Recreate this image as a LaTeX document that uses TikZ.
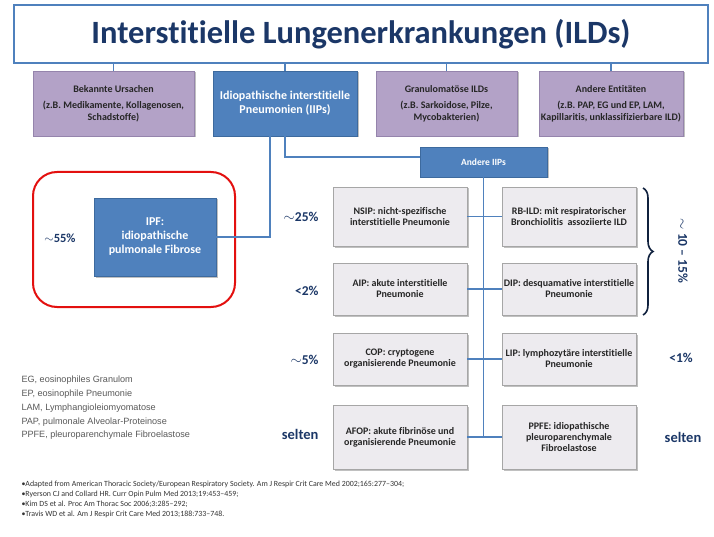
\documentclass[tikz,border=0pt]{standalone}
\usepackage{fontspec}
\setmainfont{Carlito}[Ligatures=NoCommon]
\newfontfamily\arialfont{Liberation Sans}
\usetikzlibrary{shadows,decorations.pathreplacing}

\definecolor{ildblue}{HTML}{4F81BD}
\definecolor{ildblueline}{HTML}{3D6A9E}
\definecolor{ildnavy}{HTML}{1B3767}
\definecolor{ildlila}{HTML}{B3A2C7}
\definecolor{ildlilaline}{HTML}{9584AC}
\definecolor{ildgray}{HTML}{EDEBEF}
\definecolor{ildgrayline}{HTML}{A6A6A6}
\definecolor{ildred}{HTML}{E3100F}

\tikzset{
  boxshadow/.style={drop shadow={shadow xshift=1.5pt, shadow yshift=-1.5pt, opacity=0.35, fill=black!70}},
  lilabox/.style={draw=ildlilaline, fill=ildlila, boxshadow, minimum height=65pt, align=center, inner sep=2pt,
    font=\fontsize{10}{11.5}\selectfont\bfseries, text=black!85},
  bluebox/.style={draw=ildblueline, fill=ildblue, boxshadow, align=center, inner sep=2pt,
    font=\fontsize{12}{14}\selectfont\bfseries, text=white},
  graybox/.style={draw=ildgrayline, fill=ildgray, boxshadow, minimum width=134pt, align=center, inner sep=2pt,
    font=\fontsize{10}{11}\selectfont\bfseries, text=black!85},
  share/.style={font=\fontsize{13.5}{15}\selectfont\bfseries, text=ildnavy},
  link/.style={draw=ildblue, line width=1.6pt}
}

\begin{document}
\begin{tikzpicture}[x=1pt, y=-1pt]
  \useasboundingbox[fill=white] (0,0) rectangle (714,537);

  % Title
  \node[draw=ildblue, line width=2pt, fill=white, minimum width=694pt, minimum height=58pt,
    font=\fontsize{32.5}{36}\selectfont\bfseries, text=ildnavy] (title) at (361,34)
    {Interstitielle Lungenerkrankungen (ILDs)};

  % Main groups
  \node[lilabox, minimum width=161pt] (bekannt) at (113.5,103.5)
    {Bekannte Ursachen\\[5pt](z.B. Medikamente, Kollagenosen,\\Schadstoffe)};
  \node[bluebox, minimum width=144pt, minimum height=65pt] (iip) at (285,103.5)
    {Idiopathische interstitielle\\Pneumonien (IIPs)};
  \node[lilabox, minimum width=141pt] (granulom) at (446.5,103.5)
    {Granulomatöse ILDs\\[5pt](z.B. Sarkoidose, Pilze,\\Mycobakterien)};
  \node[lilabox, minimum width=144pt] (andereent) at (611,103.5)
    {Andere Entitäten\\[5pt](z.B. PAP, EG und EP, LAM,\\Kapillaritis, unklassifizierbare ILD)};

  \foreach \n in {bekannt,iip,granulom,andereent}
    \draw[link] (title.south -| \n.north) -- (\n.north);

  % IPF
  \draw[ildred, line width=2pt, rounded corners=24pt] (33,172) rectangle (235,307);
  \node[bluebox, minimum width=122pt, minimum height=78pt] (ipf) at (155,237)
    {IPF:\\idiopathische\\pulmonale Fibrose};
  \node[share, font=\fontsize{12.5}{15}\selectfont\bfseries] (p55) at (60,238) {$\sim$55\%};
  \draw[link] (ipf.east) -| ([xshift=-15pt]iip.south);

  % Other IIPs
  \node[bluebox, minimum width=127pt, minimum height=30pt, font=\fontsize{9.5}{11}\selectfont\bfseries] (andere) at (483.5,162)
    {Andere IIPs};
  \draw[link] (iip.south) |- ([yshift=5pt]andere.west);

  \node[graybox, minimum height=59pt] (nsip) at (400,216.5) {NSIP: nicht-spezifische\\interstitielle Pneumonie};
  \node[graybox, minimum height=59pt] (rbild) at (569,216.5) {RB-ILD: mit respiratorischer\\Bronchiolitis\ \ assoziierte ILD};
  \node[graybox, minimum height=52pt] (aip) at (400,289) {AIP: akute interstitielle\\Pneumonie};
  \node[graybox, minimum height=52pt] (dip) at (569,289) {DIP: desquamative interstitielle\\Pneumonie};
  \node[graybox, minimum height=52pt] (cop) at (400,359) {COP: cryptogene\\organisierende Pneumonie};
  \node[graybox, minimum height=52pt] (lip) at (569,359) {LIP: lymphozytäre interstitielle\\Pneumonie};
  \node[graybox, minimum height=64pt] (afop) at (400,437) {AFOP: akute fibrinöse und\\organisierende Pneumonie};
  \node[graybox, minimum height=64pt] (ppfe) at (569,437) {PPFE: idiopathische\\pleuroparenchymale\\Fibroelastose};

  \draw[link] (andere.south) -- (andere.south |- afop.east);
  \draw[link] (nsip.east) -- (rbild.west);
  \draw[link] (aip.east) -- (dip.west);
  \draw[link] (cop.east) -- (lip.west);
  \draw[link] (afop.east) -- (ppfe.west);

  % Shares
  \node[share, anchor=east] (p25) at (322,217) {$\sim$25\%};
  \node[share, anchor=east] (p2) at (322,291) {<2\%};
  \node[share, anchor=east] (p5) at (322,360) {$\sim$5\%};
  \node[share, anchor=east, font=\fontsize{14.5}{16}\selectfont\bfseries] (rare1) at (322,434) {selten};
  \node[share] (p1) at (681,358) {<1\%};
  \node[share, font=\fontsize{14.5}{16}\selectfont\bfseries] (rare2) at (683,437) {selten};

  \draw[ildnavy!60!black, line width=1.6pt, decorate, decoration={brace, amplitude=10pt}] (643,188) -- (643,315);
  \node[share, rotate=-90] (p1015) at (683,251) {$\sim$ 10 -- 15\%};

  % Abbreviations
  \node[anchor=west, align=left, text=black!65, font=\arialfont\fontsize{9.1}{13.8}\selectfont] (abbr) at (18,408)
    {EG, eosinophiles Granulom\\EP, eosinophile Pneumonie\\LAM, Lymphangioleiomyomatose\\PAP, pulmonale Alveolar-Proteinose\\PPFE, pleuroparenchymale Fibroelastose};

  % References
  \node[anchor=west, align=left, text=black!80, font=\fontsize{7.9}{10}\selectfont] (refs) at (18,499)
    {\textbullet Adapted from American Thoracic Society/European Respiratory Society. Am J Respir Crit Care Med 2002;165:277--304;\\
     \textbullet Ryerson CJ and Collard HR. Curr Opin Pulm Med 2013;19:453--459;\\
     \textbullet Kim DS et al. Proc Am Thorac Soc 2006;3:285--292;\\
     \textbullet Travis WD et al. Am J Respir Crit Care Med 2013;188:733--748.};
\end{tikzpicture}
\end{document}
